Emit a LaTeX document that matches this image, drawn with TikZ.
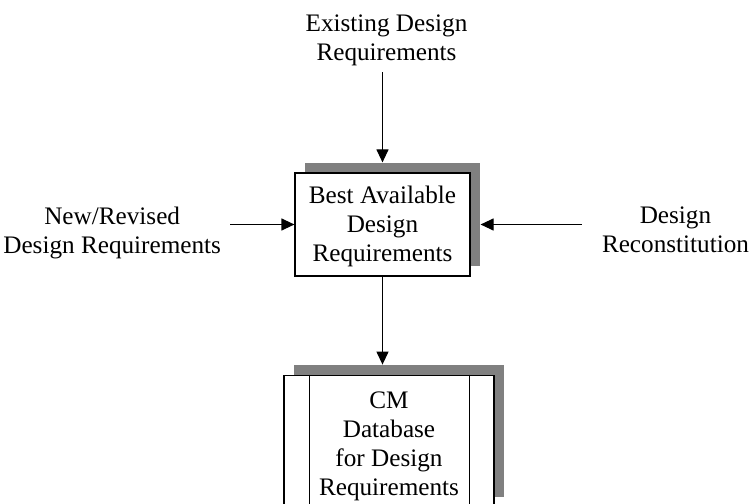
\documentclass[tikz,border=0pt]{standalone}
\usepackage{fontspec}
\setmainfont{Liberation Serif}
\usepackage{tikz}
\usetikzlibrary{arrows.meta, positioning, calc, shadows}

\begin{document}
\begin{tikzpicture}[x=0.5pt, y=0.5pt,
                font=\fontsize{12.6pt}{14.5pt}\selectfont,
                box/.style={draw, line width=0.6pt, fill=white, align=center, inner sep=0pt,
                    drop shadow={shadow xshift=5pt, shadow yshift=5pt, fill=gray, opacity=1}},
                lbl/.style={align=center, inner sep=3pt},
                arrow/.style={-{Triangle[length=6.5pt, width=6pt]}, line width=0.6pt}]

                \useasboundingbox (0,0) rectangle (751,504);

                % Entities
                \node[box, minimum width=87.5pt, minimum height=51.5pt, text height=40.5pt, text depth=3pt] (best) at (382.5,279.5) {Best Available\\Design\\Requirements};
                \node[lbl, above=50pt of best, xshift=2pt] (exist) {Existing Design\\Requirements};
                \node[lbl, left=33.5pt of best, yshift=-4pt] (newrev) {New/Revised\\Design Requirements};
                \node[lbl, right=62.5pt of best, yshift=-2.75pt] (recon) {Design\\Reconstitution};
                \node[box, minimum width=105pt, minimum height=66pt, text height=57pt, text depth=3pt, below=49pt of best, xshift=3.25pt] (cm) {CM\\Database\\for Design\\Requirements};
                \draw[line width=0.6pt] ([xshift=13pt]cm.north west) -- ([xshift=13pt]cm.south west);
                \draw[line width=0.6pt] ([xshift=-12.5pt]cm.north east) -- ([xshift=-12.5pt]cm.south east);

                % Arrows
                \draw[arrow] (exist.south -| best.north) -- ($(best.north)+(0,5pt)$);
                \draw[arrow] ($(newrev.east |- best.west)+(1.5pt,0)$) -- (best.west);
                \draw[arrow] ($(recon.west |- best.east)+(-7pt,0)$) -- ($(best.east)+(5pt,0)$);
                \draw[arrow] (best.south) -- ($(best.south |- cm.north)+(0,5pt)$);
            \end{tikzpicture}
\end{document}
